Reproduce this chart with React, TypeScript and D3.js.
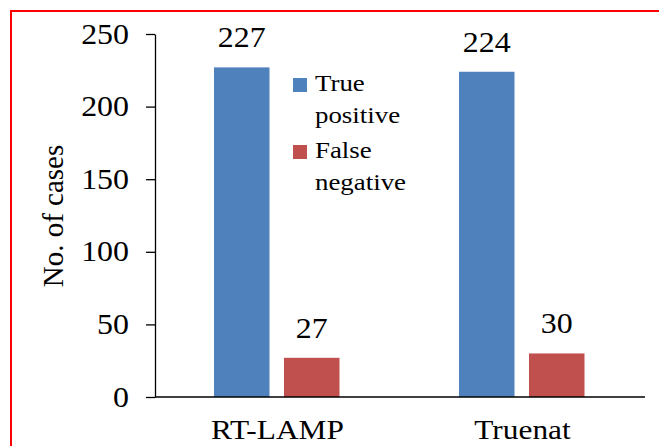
import React, { useRef, useEffect } from "react";
import * as d3 from "d3";

const categories = ["RT-LAMP", "Truenat"];
const seriesNames = ["True positive", "False negative"];
const truePositive = [227, 224];
const falseNegative = [27, 30];
const yTicks = [0, 50, 100, 150, 200, 250];
const legendLines = [
  ["True", "positive"],
  ["False", "negative"],
];

const colors = ["#4F81BD", "#C0504D"];
const FONT = "'Liberation Serif', 'Times New Roman', serif";
const STRETCH = 1.12; // picture is a bit wider than tall

const App: React.FC = () => {
  const ref = useRef<SVGSVGElement>(null);

  useEffect(() => {
    const svg = d3.select(ref.current);
    svg.selectAll("*").remove();

    const width = 659,
      height = 446;
    const left = 155,
      right = 645,
      top = 34,
      bottom = 397;

    // frame
    svg
      .append("rect")
      .attr("x", 11)
      .attr("y", 11)
      .attr("width", width + 20)
      .attr("height", height + 20)
      .attr("fill", "none")
      .attr("stroke", "#ff0000")
      .attr("stroke-width", 2);

    const x = d3.scaleBand<string>().domain(categories).range([left, right]);
    const inner = d3
      .scaleBand<number>()
      .domain([0, 1])
      .range([59, 184.5])
      .paddingInner(0.207);
    const y = d3.scaleLinear().domain([0, 250]).range([bottom, top]);

    const stretched = (
      sel: d3.Selection<SVGGElement, unknown, null, undefined>,
      tx: number,
      ty: number,
      txt: string,
      size: number,
      anchor: string
    ) =>
      sel
        .append("text")
        .attr("transform", `translate(${tx},${ty}) scale(${STRETCH},1)`)
        .attr("text-anchor", anchor)
        .style("font-family", FONT)
        .style("font-size", size + "px")
        .attr("fill", "#000")
        .text(txt);

    const g = svg.append("g");

    // bars
    const series = [truePositive, falseNegative];
    series.forEach((vals, si) => {
      categories.forEach((c, ci) => {
        const bx = x(c)! + inner(si)!;
        g.append("rect")
          .attr("x", bx)
          .attr("y", y(vals[ci]))
          .attr("width", inner.bandwidth())
          .attr("height", y(0) - y(vals[ci]))
          .attr("fill", colors[si]);
        stretched(
          g,
          bx + inner.bandwidth() / 2,
          y(vals[ci]) - 20,
          String(vals[ci]),
          28.5,
          "middle"
        );
      });
    });

    // y axis
    const yAxis = svg
      .append("g")
      .attr("transform", `translate(${left},0)`)
      .call(
        d3
          .axisLeft(y)
          .tickValues(yTicks)
          .tickSize(9)
          .tickSizeOuter(0)
          .tickFormat(() => "")
      );
    yAxis.selectAll("path, line").attr("stroke", "#000").attr("stroke-width", 1.3);
    yTicks.forEach((t) => stretched(g, 129, y(t) + 9.5, String(t), 28.5, "end"));

    // x axis
    svg
      .append("line")
      .attr("x1", left)
      .attr("x2", right)
      .attr("y1", y(0))
      .attr("y2", y(0))
      .attr("stroke", "#000")
      .attr("stroke-width", 1.3);
    categories.forEach((c) =>
      stretched(g, x(c)! + x.bandwidth() / 2, 439, c, 28, "middle")
    );

    // y title
    svg
      .append("text")
      .attr("transform", `translate(63,216) rotate(-90)`)
      .attr("text-anchor", "middle")
      .style("font-family", FONT)
      .style("font-size", "29px")
      .attr("fill", "#000")
      .text("No. of cases");

    // legend
    const legendY = [78, 145];
    seriesNames.forEach((name, i) => {
      const lg = svg.append("g").attr("aria-label", name);
      lg.append("rect")
        .attr("x", 293)
        .attr("y", legendY[i])
        .attr("width", 14)
        .attr("height", 14)
        .attr("fill", colors[i]);
      legendLines[i].forEach((line, li) =>
        stretched(lg, 315, legendY[i] + 13 + li * 31.5, line, 24, "start")
      );
    });
  }, []);

  return (
    <svg
      ref={ref}
      width={659}
      height={446}
      style={{ position: "absolute", left: 0, top: 0, background: "#fff" }}
    />
  );
};

export default App;
